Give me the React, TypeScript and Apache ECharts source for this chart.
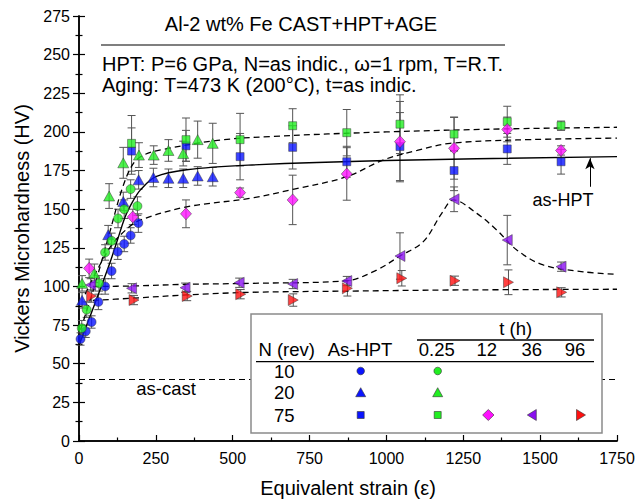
import { useEffect, useRef } from "react";
import * as echarts from "echarts";

const FONT = "'Liberation Sans', Arial, Helvetica, sans-serif";

// ---- data ----
// N = 10, as-HPT
const n10HptX = [5, 22, 41, 63, 85, 106, 126, 147, 168, 193];
const n10HptY = [66, 71, 77, 90, 100, 110, 122.5, 127.5, 133, 141];
const n10HptE = [4, 4, 4, 5, 5, 5, 5, 5, 5, 6];
// N = 10, aged 0.25 h
const n10AgeX = [9, 25, 65, 85, 106, 127, 147, 168, 190];
const n10AgeY = [73, 85, 102, 122, 129.5, 144, 150, 163, 152];
const n10AgeE = [5, 5, 5, 5, 5, 6, 6, 6, 6];
// N = 20, as-HPT
const n20HptX = [10, 95, 144, 194, 242, 291, 339, 386, 435];
const n20HptY = [91, 133.5, 155, 169, 170.5, 170, 170, 171.5, 171];
const n20HptE = [5, 6, 6, 6, 6, 6, 6, 6, 6];
// N = 20, aged 0.25 h
const n20AgeX = [10, 50, 98, 144, 195, 243, 291, 339, 386, 435];
const n20AgeY = [102, 108.5, 158.5, 180, 185, 185, 188, 186, 195, 192.6];
const n20AgeE = [5, 6, 8, 10, 8, 6, 7, 8, 12, 13];
// N = 75, as-HPT
const n75HptX = [171, 348, 524, 695, 871, 1044, 1220, 1393, 1568];
const n75HptY = [187.6, 191, 184, 190, 180.7, 190.5, 175, 189, 180.7];
const n75HptE = [15, 10, 15, 14, 10, 22, 13, 10, 8];
// N = 75, aged 0.25 h
const n75Age025X = [171, 348, 524, 695, 871, 1044, 1220, 1393, 1568];
const n75Age025Y = [192.6, 195, 195, 204, 199.5, 205, 198.6, 206.6, 204];
const n75Age025E = [18, 14, 17, 11, 15, 19, 11, 10, 3];
// N = 75, aged 12 h
const n75Age12X = [33, 175, 348, 524, 695, 871, 1044, 1220, 1393, 1568];
const n75Age12Y = [111.7, 145, 147, 160.7, 156, 172.8, 193.7, 189.4, 201.6, 188];
const n75Age12E = [6, 5, 9, 3, 16, 17, 26, 20, 8, 3];
// N = 75, aged 36 h
const n75Age36X = [38, 171, 345, 521, 695, 871, 1044, 1220, 1393, 1568];
const n75Age36Y = [101, 98.8, 99.2, 102.4, 101.6, 103.5, 119.7, 156.4, 130, 112.8];
const n75Age36E = [4, 3, 3, 3, 3, 3, 15, 8, 16, 3];
// N = 75, aged 96 h
const n75Age96X = [41, 179, 352, 526, 697, 873, 1050, 1223, 1397, 1570];
const n75Age96Y = [93.8, 91.2, 93.8, 95, 91.2, 98.8, 105.3, 103.7, 102.7, 96.2];
const n75Age96E = [4, 3, 3, 3, 4, 5, 5, 3, 8, 3];

// fitted trend curves
const fitHptX = [0, 50, 100, 125, 150, 175, 200, 250, 350, 550, 1000, 1750];
const fitHptY = [62, 88, 115, 130, 145, 155, 162.5, 171, 175.5, 178.5, 181.5, 184];
const fit025X = [5, 50, 100, 140, 175, 210, 270, 450, 620, 1000, 1400, 1750];
const fit025Y = [72, 100, 135, 163, 179, 185, 188.5, 194.5, 197, 200, 202, 203];
const fit12X = [20, 100, 160, 200, 350, 556, 700, 871, 989, 1100, 1207, 1424, 1750];
const fit12Y = [95, 125, 138, 143, 151.5, 157, 163, 171, 181.8, 188, 192.6, 194.8, 196];
const fit36X = [45, 171, 350, 556, 871, 968, 1044, 1120, 1180, 1218, 1294, 1359, 1424, 1510, 1640, 1750];
const fit36Y = [100, 100.3, 101.4, 102, 103.7, 110.6, 119.7, 129, 147.3, 156, 147.3, 136.5, 123.6, 113.9, 109.5, 107.8];
const fit96X = [45, 166, 350, 556, 882, 1207, 1750];
const fit96Y = [91, 92.3, 94.5, 96.2, 97, 97.7, 98.2];

const asCastHV = 40;
const asHptArrowX = 1662;
const asHptArrowFrom = 164.5;
const asHptArrowTo = 183;

const legendTimes = ["0.25", "12", "36", "96"];
const legendRevs = ["10", "20", "75"];

const BLUE = "#0a14ff";
const GREEN = "#22ee22";
const MAGENTA = "#ff10ff";
const PURPLE = "#8a10f0";
const RED = "#ff1010";

const zip2 = (xs: number[], ys: number[]) => xs.map((x, i) => [x, ys[i]]);
const zip3 = (xs: number[], ys: number[], es: number[]) => xs.map((x, i) => [x, ys[i], es[i]]);

export default function App() {
  const ref = useRef<HTMLDivElement>(null);

  useEffect(() => {
    if (!ref.current) return;
    const chart = echarts.init(ref.current, undefined, { renderer: "svg" });

    const errData = [
      ...zip3(n10HptX, n10HptY, n10HptE),
      ...zip3(n10AgeX, n10AgeY, n10AgeE),
      ...zip3(n20HptX, n20HptY, n20HptE),
      ...zip3(n20AgeX, n20AgeY, n20AgeE),
      ...zip3(n75HptX, n75HptY, n75HptE),
      ...zip3(n75Age025X, n75Age025Y, n75Age025E),
      ...zip3(n75Age12X, n75Age12Y, n75Age12E),
      ...zip3(n75Age36X, n75Age36Y, n75Age36E),
      ...zip3(n75Age96X, n75Age96Y, n75Age96E),
    ];

    const dashed = { color: "#000", width: 1.3, type: [6, 4] as number[] };
    const curve = (name: string, xs: number[], ys: number[], lineStyle: any, extra: any = {}) => ({
      name,
      type: "line",
      data: zip2(xs, ys),
      smooth: 0.35,
      showSymbol: false,
      symbol: "none",
      silent: true,
      z: 3,
      lineStyle,
      ...extra,
    });

    const border = { borderColor: "#333", borderWidth: 0.6 };
    const scatter = (name: string, xs: number[], ys: number[], symbol: string, size: any, color: string, rotate = 0, z = 5) => ({
      name,
      type: "scatter",
      data: zip2(xs, ys),
      symbol,
      symbolSize: size,
      symbolRotate: rotate,
      itemStyle: { color, ...border },
      z,
    });

    const txt = (text: string, x: number, y: number, size: number, align = "center", extra: any = {}) => ({
      type: "text",
      x,
      y,
      z: 101,
      style: {
        text,
        fontSize: size,
        fontFamily: FONT,
        fill: "#000",
        textAlign: align,
        textVerticalAlign: "middle",
        ...extra,
      },
    });
    const hline = (x1: number, x2: number, y: number, w = 1.3) => ({
      type: "line",
      z: 101,
      shape: { x1, y1: y, x2, y2: y },
      style: { stroke: "#000", lineWidth: w },
    });
    const mk = { stroke: "#333", lineWidth: 0.6 };
    const tri = (cx: number, cy: number, fill: string) => ({
      type: "polygon",
      z: 101,
      shape: { points: [[cx, cy - 5], [cx + 5, cy + 4], [cx - 5, cy + 4]] },
      style: { fill, ...mk },
    });

    const colX = [436.7, 486.7, 531.7, 575];
    const rowY = [371, 392.7, 415];

    const graphic: any[] = [
      // header
      txt("Al-2 wt% Fe CAST+HPT+AGE", 301, 24, 20),
      hline(101, 505, 45, 1.2),
      txt("HPT: P=6 GPa, N=as indic., \u03c9=1 rpm, T=R.T.", 102, 63.8, 20, "left"),
      txt("Aging: T=473 K (200\u00b0C), t=as indic.", 102, 84.6, 20, "left"),
      // annotations
      txt("as-cast", 166, 388, 18.5),
      txt("as-HPT", 563, 200, 18),
      // legend table
      {
        type: "rect",
        z: 100,
        shape: { x: 251, y: 314, width: 351, height: 119 },
        style: { fill: "#fff", stroke: "#8a8a8a", lineWidth: 1.5 },
      },
      txt("t (h)", 515.7, 328, 18.5),
      hline(417, 594, 340),
      txt("N (rev)", 286.7, 349, 18.5),
      txt("As-HPT", 360, 349, 18.5),
      ...legendTimes.map((t, i) => txt(t, colX[i], 349, 18.5)),
      hline(256, 594, 361.7),
      ...legendRevs.map((r, i) => txt(r, 284.3, rowY[i], 18.5)),
      { type: "circle", z: 101, shape: { cx: 360.7, cy: rowY[0], r: 3.8 }, style: { fill: BLUE, ...mk } },
      { type: "circle", z: 101, shape: { cx: 437.7, cy: rowY[0], r: 3.8 }, style: { fill: GREEN, ...mk } },
      tri(360.7, rowY[1], BLUE),
      tri(437.7, rowY[1], GREEN),
      { type: "rect", z: 101, shape: { x: 357.2, y: rowY[2] - 3.5, width: 7, height: 7 }, style: { fill: BLUE, ...mk } },
      { type: "rect", z: 101, shape: { x: 434.2, y: rowY[2] - 3.5, width: 7, height: 7 }, style: { fill: GREEN, ...mk } },
      {
        type: "polygon",
        z: 101,
        shape: { points: [[488.3, rowY[2] - 5.5], [494, rowY[2]], [488.3, rowY[2] + 5.5], [482.6, rowY[2]]] },
        style: { fill: MAGENTA, ...mk },
      },
      {
        type: "polygon",
        z: 101,
        shape: { points: [[527.3, rowY[2]], [536.3, rowY[2] - 5.5], [536.3, rowY[2] + 5.5]] },
        style: { fill: PURPLE, ...mk },
      },
      {
        type: "polygon",
        z: 101,
        shape: { points: [[585.5, rowY[2]], [576.5, rowY[2] - 5.5], [576.5, rowY[2] + 5.5]] },
        style: { fill: RED, ...mk },
      },
    ];

    const axisLine = { show: true, lineStyle: { color: "#000", width: 1.5 } };
    const tickStyle = { color: "#000", width: 1.2 };
    const plain = (v: number) => String(v);

    const option: any = {
      animation: false,
      backgroundColor: "#fff",
      textStyle: { fontFamily: FONT },
      grid: { left: 79, top: 16, width: 538, height: 425, containLabel: false, outerBoundsMode: "none" },
      xAxis: [
        {
          type: "value",
          min: 0,
          max: 1750,
          interval: 250,
          position: "bottom",
          axisLine,
          axisTick: { show: true, inside: true, length: 6, lineStyle: tickStyle },
          minorTick: { show: true, splitNumber: 2, length: 3.5, lineStyle: tickStyle },
          splitLine: { show: false },
          minorSplitLine: { show: false },
          axisLabel: { fontSize: 16, color: "#000", margin: 9, fontFamily: FONT, formatter: plain },
          name: "Equivalent strain (\u03b5)",
          nameLocation: "middle",
          nameGap: 37,
          nameTextStyle: { fontSize: 20, color: "#000", fontFamily: FONT },
        },
        {
          type: "value",
          min: 0,
          max: 1750,
          interval: 250,
          position: "top",
          axisLine,
          axisTick: { show: false },
          axisLabel: { show: false },
          splitLine: { show: false },
        },
      ],
      yAxis: [
        {
          type: "value",
          min: 0,
          max: 275,
          interval: 25,
          position: "left",
          axisLine,
          axisTick: { show: true, inside: true, length: 6, lineStyle: tickStyle },
          minorTick: { show: true, splitNumber: 2, length: 3.5, lineStyle: tickStyle },
          splitLine: { show: false },
          minorSplitLine: { show: false },
          axisLabel: { fontSize: 16, color: "#000", margin: 9, fontFamily: FONT, formatter: plain },
          name: "Vickers Microhardness (HV)",
          nameLocation: "middle",
          nameGap: 47,
          nameTextStyle: { fontSize: 20, color: "#000", fontFamily: FONT },
        },
        {
          type: "value",
          min: 0,
          max: 275,
          interval: 25,
          position: "right",
          axisLine,
          axisTick: { show: true, inside: true, length: 6, lineStyle: tickStyle },
          minorTick: { show: true, splitNumber: 2, length: 3.5, lineStyle: tickStyle },
          axisLabel: { show: false },
          splitLine: { show: false },
        },
      ],
      series: [
        {
          name: "error bars",
          type: "custom",
          data: errData,
          encode: { x: 0, y: 1 },
          z: 2,
          silent: true,
          renderItem: (params: any, api: any) => {
            const x = api.value(0);
            const y = api.value(1);
            const e = api.value(2);
            const top = api.coord([x, y + e]);
            const bot = api.coord([x, y - e]);
            const c = 4;
            const st = { stroke: "#555", lineWidth: 1 };
            return {
              type: "group",
              children: [
                { type: "line", shape: { x1: top[0], y1: top[1], x2: bot[0], y2: bot[1] }, style: st },
                { type: "line", shape: { x1: top[0] - c, y1: top[1], x2: top[0] + c, y2: top[1] }, style: st },
                { type: "line", shape: { x1: bot[0] - c, y1: bot[1], x2: bot[0] + c, y2: bot[1] }, style: st },
              ],
            };
          },
        },
        curve("fit as-HPT", fitHptX, fitHptY, { color: "#000", width: 1.4, type: "solid" }, {
          markLine: {
            silent: true,
            symbol: ["none", "arrow"],
            symbolSize: [7, 11],
            label: { show: false },
            lineStyle: { color: "#000", width: 1, type: "solid" },
            data: [[{ coord: [asHptArrowX, asHptArrowFrom] }, { coord: [asHptArrowX, asHptArrowTo] }]],
          },
        }),
        curve("fit 0.25 h", fit025X, fit025Y, dashed),
        curve("fit 12 h", fit12X, fit12Y, dashed),
        curve("fit 36 h", fit36X, fit36Y, dashed),
        curve("fit 96 h", fit96X, fit96Y, dashed, {
          markLine: {
            silent: true,
            symbol: ["none", "none"],
            label: { show: false },
            lineStyle: { color: "#000", width: 1.2, type: [6, 4] },
            data: [{ yAxis: asCastHV }],
          },
        }),
        scatter("N=10 as-HPT", n10HptX, n10HptY, "circle", 9, BLUE),
        scatter("N=20 as-HPT", n20HptX, n20HptY, "triangle", [11, 10], BLUE),
        scatter("N=75 as-HPT", n75HptX, n75HptY, "rect", 8, BLUE),
        scatter("N=10 0.25 h", n10AgeX, n10AgeY, "circle", 9, GREEN, 0, 6),
        scatter("N=20 0.25 h", n20AgeX, n20AgeY, "triangle", [11, 10], GREEN, 0, 6),
        scatter("N=75 0.25 h", n75Age025X, n75Age025Y, "rect", 8, GREEN, 0, 6),
        scatter("N=75 12 h", n75Age12X, n75Age12Y, "diamond", [11, 12], MAGENTA, 0, 6),
        scatter("N=75 36 h", n75Age36X, n75Age36Y, "triangle", [11, 10], PURPLE, 90, 6),
        scatter("N=75 96 h", n75Age96X, n75Age96Y, "triangle", [11, 10], RED, -90, 6),
      ],
      graphic,
    };

    chart.setOption(option);
    return () => chart.dispose();
  }, []);

  return (
    <div
      ref={ref}
      style={{ position: "absolute", left: 0, top: 0, width: 639, height: 501, background: "#fff" }}
    />
  );
}
